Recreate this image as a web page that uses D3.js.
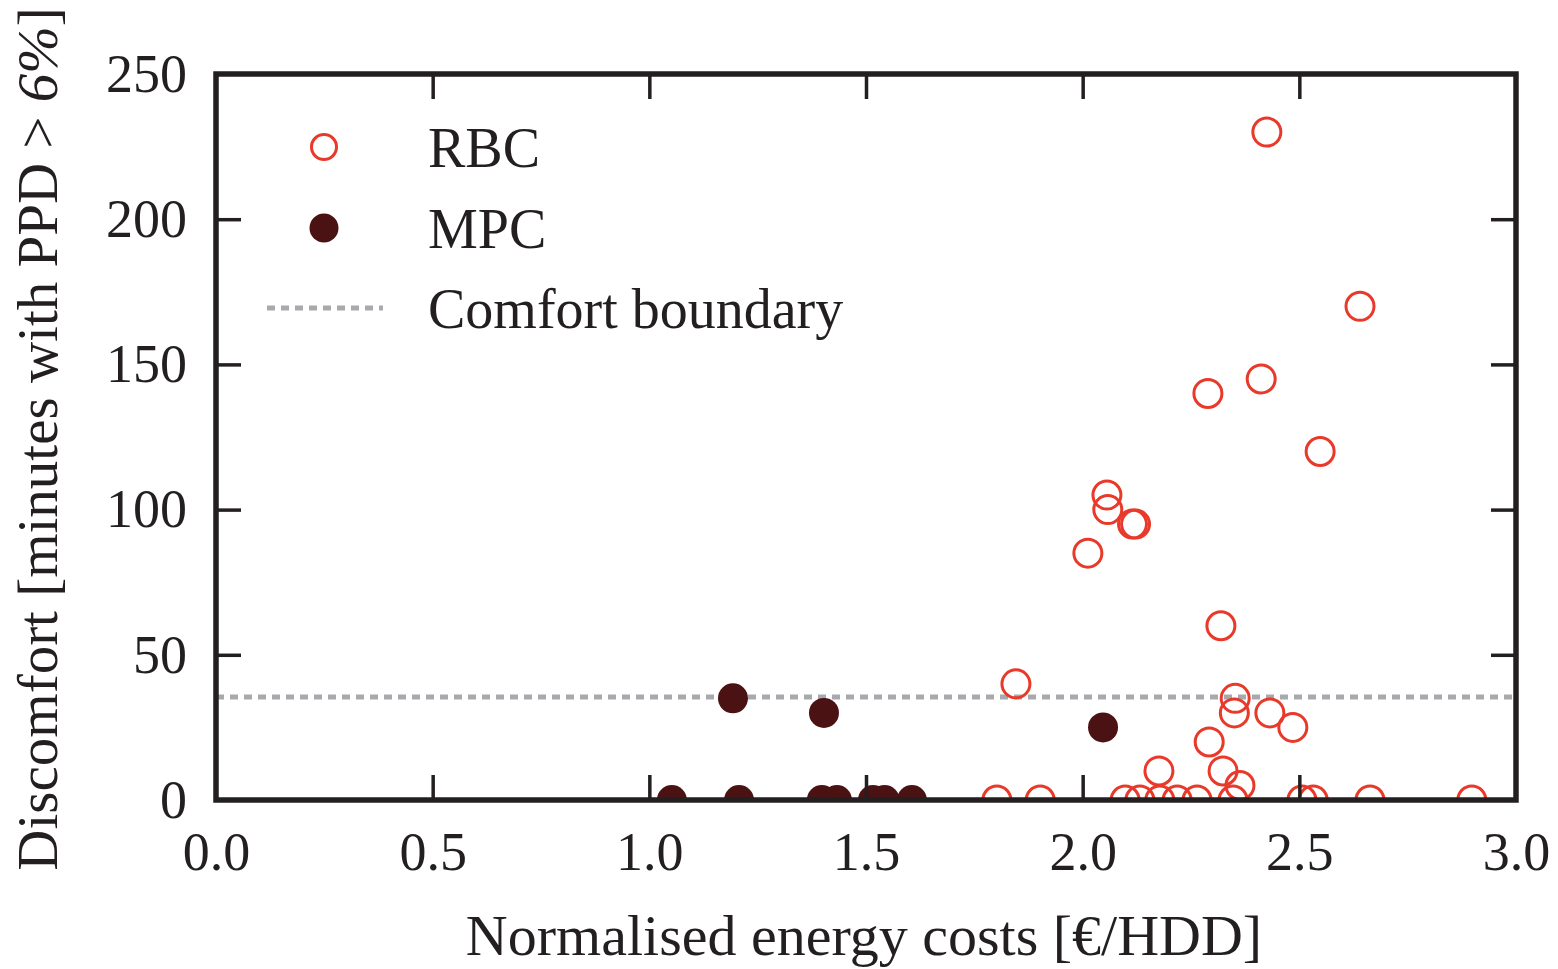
<!DOCTYPE html>
<html><head><meta charset="utf-8">
<script src="https://cdn.jsdelivr.net/npm/d3@7"></script>
<style>body{margin:0;background:#fff;} svg{display:block;}</style>
</head><body>
<svg id="chart" width="1558" height="969"></svg>
<script>
const rbcX = [2.425, 2.640, 2.412, 2.289, 2.548, 2.056, 2.058, 2.115, 2.122, 2.012, 2.319, 1.846, 2.352, 2.350, 2.432, 2.485, 2.292, 2.176, 2.324, 2.363,
  1.802, 1.902, 2.098, 2.132, 2.178, 2.218, 2.264, 2.347, 2.506, 2.532, 2.663, 2.898];
const rbcY = [230, 170, 145, 140, 120, 105, 100, 95, 95, 85, 60, 40, 35, 30, 30, 25, 20, 10, 10, 5,
  0, 0, 0, 0, 0, 0, 0, 0, 0, 0, 0, 0];
const mpcX = [1.193, 1.403, 2.047, 1.052, 1.207, 1.398, 1.433, 1.516, 1.543, 1.606];
const mpcY = [35, 30, 25, 0, 0, 0, 0, 0, 0, 0];
const comfortBoundary = 35.5;
const xTicks = [0.0, 0.5, 1.0, 1.5, 2.0, 2.5, 3.0];
const yTicks = [0, 50, 100, 150, 200, 250];
const legendLabels = ["RBC", "MPC", "Comfort boundary"];

const svg = d3.select("#chart");
const L = 216, R = 1516, T = 74, B = 800;
const x = d3.scaleLinear().domain([0, 3]).range([L, R]);
const y = d3.scaleLinear().domain([0, 250]).range([B, T]);
const font = "'Liberation Serif','DejaVu Serif',serif";
const rbcColor = "#e8392a", mpcColor = "#4a1212", gridGrey = "#a7a9ac";

svg.append("defs").append("clipPath").attr("id","clip")
  .append("rect").attr("x", L).attr("y", T).attr("width", R-L).attr("height", B-T);

// comfort boundary
svg.append("line").attr("x1", L).attr("x2", R).attr("y1", y(comfortBoundary)).attr("y2", y(comfortBoundary))
  .attr("stroke", gridGrey).attr("stroke-width", 5).attr("stroke-dasharray", "8,6");

const pts = svg.append("g").attr("clip-path", "url(#clip)");
pts.selectAll("circle.mpc").data(mpcX.map((v,i)=>[v, mpcY[i]])).enter().append("circle")
  .attr("class","mpc").attr("cx", d=>x(d[0])).attr("cy", d=>y(d[1])).attr("r", 15)
  .attr("fill", mpcColor);
pts.selectAll("circle.rbc").data(rbcX.map((v,i)=>[v, rbcY[i]])).enter().append("circle")
  .attr("class","rbc").attr("cx", d=>x(d[0])).attr("cy", d=>y(d[1])).attr("r", 14)
  .attr("fill", "none").attr("stroke", rbcColor).attr("stroke-width", 3);

// axes with inward ticks
const tickLen = 25;
const xAxisB = d3.axisBottom(x).tickValues(xTicks).tickSize(-tickLen).tickFormat(d3.format(".1f")).tickPadding(32);
const gxb = svg.append("g").attr("transform", `translate(0,${B})`).call(xAxisB);
const xAxisT = d3.axisTop(x).tickValues(xTicks).tickSize(-tickLen).tickFormat("");
const gxt = svg.append("g").attr("transform", `translate(0,${T})`).call(xAxisT);
const yAxisL = d3.axisLeft(y).tickValues(yTicks).tickSize(-tickLen).tickPadding(29);
const gyl = svg.append("g").attr("transform", `translate(${L},0)`).call(yAxisL);
const yAxisR = d3.axisRight(y).tickValues(yTicks).tickSize(-tickLen).tickFormat("");
const gyr = svg.append("g").attr("transform", `translate(${R},0)`).call(yAxisR);
[gxb,gxt,gyl,gyr].forEach(g=>{
  g.select(".domain").remove();
  g.selectAll(".tick line").attr("stroke", "#231f20").attr("stroke-width", 3.5);
  g.selectAll("text").attr("font-family", font).attr("font-size", 54).attr("fill", "#231f20");
});
gxb.selectAll(".tick").filter(d=>d===0||d===3).select("line").remove();
gxt.selectAll(".tick").filter(d=>d===0||d===3).select("line").remove();
gyl.selectAll(".tick").filter(d=>d===0||d===250).select("line").remove();
gyr.selectAll(".tick").filter(d=>d===0||d===250).select("line").remove();

// frame
svg.append("rect").attr("x", L).attr("y", T).attr("width", R-L).attr("height", B-T)
  .attr("fill","none").attr("stroke","#231f20").attr("stroke-width", 5.5);

// axis labels
svg.append("text").attr("x", 864).attr("y", 955).attr("text-anchor","middle")
  .attr("font-family", font).attr("font-size", 58).attr("fill","#231f20")
  .text("Normalised energy costs [€/HDD]");
const yl = svg.append("text").attr("transform", `translate(57,439) rotate(-90)`).attr("text-anchor","middle")
  .attr("font-family", font).attr("font-size", 57).attr("fill","#231f20");
yl.append("tspan").text("Discomfort [minutes with PPD > ");
yl.append("tspan").attr("font-style","italic").text("6%");
yl.append("tspan").text("]");

// legend
const lg = svg.append("g");
const ly = [147, 228, 308];
lg.append("circle").attr("cx", 324).attr("cy", ly[0]).attr("r", 12.5).attr("fill","none").attr("stroke", rbcColor).attr("stroke-width", 3);
lg.append("circle").attr("cx", 324).attr("cy", ly[1]).attr("r", 14.5).attr("fill", mpcColor);
lg.append("line").attr("x1", 267).attr("x2", 383).attr("y1", ly[2]).attr("y2", ly[2])
  .attr("stroke", gridGrey).attr("stroke-width", 5).attr("stroke-dasharray", "8,6");
lg.selectAll("text.lt").data(legendLabels).enter().append("text")
  .attr("x", 428).attr("y", (d,i)=>ly[i]+20)
  .attr("font-family", font).attr("font-size", 56).attr("fill","#231f20").text(d=>d);
</script>
</body></html>
